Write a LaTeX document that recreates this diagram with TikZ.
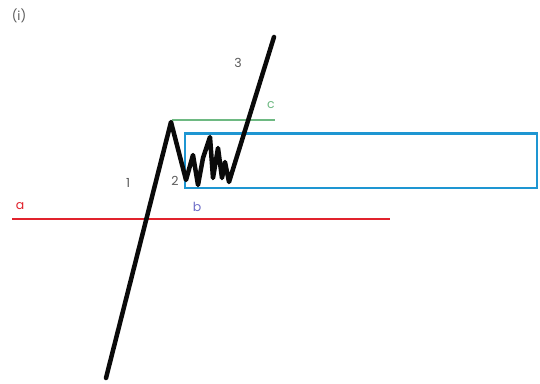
\documentclass[tikz,border=0pt]{standalone}
\usepackage{fontspec}
\setmainfont{Poppins}
\definecolor{wave}{RGB}{10,10,10}
\definecolor{redl}{RGB}{225,35,45}
\definecolor{greenl}{RGB}{110,185,130}
\definecolor{bluel}{RGB}{30,150,210}
\definecolor{labg}{RGB}{90,90,90}
\definecolor{labb}{RGB}{110,110,200}
\tikzset{
  lab/.style={font=\fontsize{12.5}{14}\selectfont, text=labg, inner sep=0pt},
}
\begin{document}
\begin{tikzpicture}[x=1pt,y=-1pt]
\useasboundingbox[fill=white] (0,0) rectangle (540,383);
% blue rectangle
\draw[bluel, line width=2.6pt] (185,133.5) rectangle (537,188);
% green line c
\draw[greenl, line width=1.4pt] (172,120) -- (275,120);
% red line a
\draw[redl, line width=2.8pt] (12,219) -- (390,219);
% black wave
\draw[wave, line width=4.5pt, line join=round, line cap=round]
  (106,378) -- (171,122) -- (186,180) -- (193,155) -- (198,185) -- (203,158)
  -- (210,137) -- (213,178) -- (218,148) -- (222,178) -- (225,162) -- (229,182)
  -- (274,37);
% labels
\node[lab] (ti) at (19,16) {(i)};
\node[lab] (l1) at (128,183) {1};
\node[lab] (l2) at (175,181) {2};
\node[lab] (l3) at (238,63) {3};
\node[lab, text=greenl] (lc) at (271,105) {c};
\node[lab, text=redl] (la) at (20,206) {a};
\node[lab, text=labb] (lb) at (197,207) {b};
\end{tikzpicture}
\end{document}
